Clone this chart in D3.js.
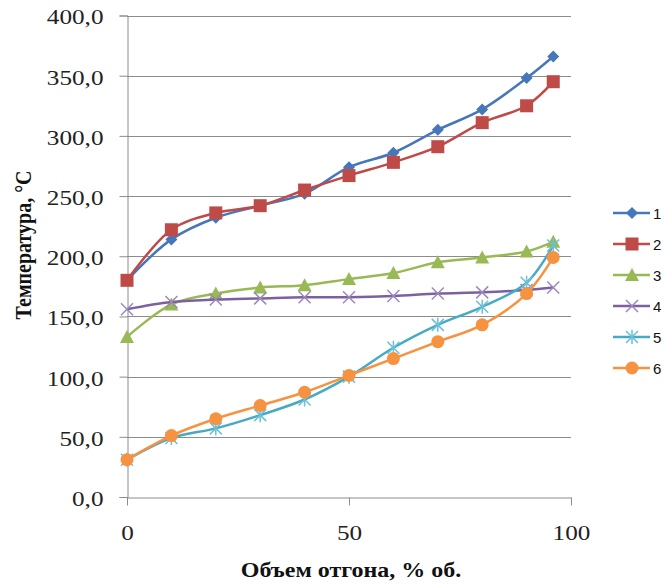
<!DOCTYPE html>
<html>
<head>
<meta charset="utf-8">
<script src="https://cdn.jsdelivr.net/npm/d3@7"></script>
<style>
    body { margin: 0; background: #fff; }
    .tick-label { font-family: "Liberation Serif", "Times New Roman", serif; font-size: 21px; fill: #222; }
    .axis-title { font-family: "Liberation Serif", "Times New Roman", serif; font-size: 20px; font-weight: bold; fill: #111; }
    .legend-text { font-family: "Liberation Sans", Arial, sans-serif; font-size: 15px; fill: #111; }
</style>
</head>
<body>
<div id="chart"></div>
<script>
// volume distilled, % vol.
let xValues = [0, 10, 20, 30, 40, 50, 60, 70, 80, 90, 96];

let series1 = [180, 214, 232, 242, 252, 274, 286, 305, 322, 348, 366];
let series2 = [180, 222, 236, 242, 255, 267, 278, 291, 311, 325, 345];
let series3 = [133, 160, 169, 174, 176, 181, 186, 195, 199, 204, 212];
let series4 = [156, 162, 164, 165, 166, 166, 167, 169, 170, 172, 174];
let series5 = [31, 49, 57, 68, 81, 100, 124, 143, 158, 178, 209];
let series6 = [31, 51, 65, 76, 87, 101, 115, 129, 143, 169, 199];

let seriesNames = ["1", "2", "3", "4", "5", "6"];
let yTicks = [0, 50, 100, 150, 200, 250, 300, 350, 400];
let xTicks = [0, 50, 100];

let colors = ["#4677BB", "#BE4B48", "#98B954", "#7D60A0", "#46AAC5", "#F69240"];
let markers = ["diamond", "square", "triangle", "x", "star", "circle"];

let allSeries = [series1, series2, series3, series4, series5, series6].map((vals, i) => ({
    name: seriesNames[i],
    color: colors[i],
    marker: markers[i],
    points: vals.map((v, j) => ({x: xValues[j], y: v}))
}));

let width = 665, height = 586;
let stretch = 1.2; // the original text looks widened horizontally

let svg = d3.select("#chart").append("svg")
    .attr("width", width)
    .attr("height", height);

let xscale = d3.scaleLinear().domain([0, 100]).range([127, 571]);
let yscale = d3.scaleLinear().domain([0, 400]).range([497, 15.5]);

// gridlines
svg.append("g").selectAll("line")
    .data(yTicks.slice(1))
    .enter().append("line")
    .attr("x1", xscale(0)).attr("x2", xscale(100))
    .attr("y1", d => Math.round(yscale(d)) + 0.5).attr("y2", d => Math.round(yscale(d)) + 0.5)
    .attr("stroke", "#8c8c8c").attr("stroke-width", 1);

// y axis
let yAxis = d3.axisLeft(yscale).tickValues(yTicks).tickSize(8).tickPadding(24)
    .tickFormat(d => d3.format(".1f")(d).replace(".", ","));
let yAxisGroup = svg.append("g")
    .attr("transform", "translate(" + (xscale(0) + 0.5) + ",0)")
    .call(yAxis);
yAxisGroup.select(".domain").attr("stroke", "#8c8c8c");
yAxisGroup.selectAll(".tick line").attr("stroke", "#8c8c8c");
yAxisGroup.selectAll(".tick text")
    .attr("class", "tick-label").attr("font-size", null).attr("font-family", null)
    .attr("x", -24 / stretch)
    .attr("dy", "0.4em")
    .attr("transform", "scale(" + stretch + ",1)");

// x axis
let xAxis = d3.axisBottom(xscale).tickValues(xTicks).tickSize(8).tickPadding(20).tickSizeOuter(0);
let xAxisGroup = svg.append("g")
    .attr("transform", "translate(0," + (Math.round(yscale(0)) + 0.5) + ")")
    .call(xAxis);
xAxisGroup.select(".domain").attr("stroke", "#8c8c8c");
xAxisGroup.selectAll(".tick line").attr("stroke", "#8c8c8c");
xAxisGroup.selectAll(".tick text")
    .attr("class", "tick-label").attr("font-size", null).attr("font-family", null)
    .attr("transform", "scale(" + stretch + ",1)");

// axis titles
svg.append("text")
    .attr("class", "axis-title")
    .attr("transform", "translate(351,577) scale(" + stretch + ",1)")
    .style("text-anchor", "middle")
    .text("Объем отгона, % об.");

svg.append("text")
    .attr("class", "axis-title")
    .attr("transform", "translate(31,245) rotate(-90) scale(1," + stretch + ")")
    .style("text-anchor", "middle")
    .text("Температура, °С");

// marker drawing
function drawMarker(g, type, color) {
    if (type === "diamond") {
        g.append("path").attr("d", "M0,-6L6,0L0,6L-6,0Z").attr("fill", color);
    } else if (type === "square") {
        g.append("rect").attr("x", -6.5).attr("y", -6.5).attr("width", 13).attr("height", 13).attr("fill", color);
    } else if (type === "triangle") {
        g.append("path").attr("d", "M0,-7L7,6L-7,6Z").attr("fill", color);
    } else if (type === "x") {
        g.append("path").attr("d", "M-6,-6L6,6M-6,6L6,-6").attr("stroke", "#9c88bd").attr("stroke-width", 1.5).attr("fill", "none");
    } else if (type === "star") {
        g.append("path").attr("d", "M-6,-6L6,6M-6,6L6,-6M0,-7L0,7").attr("stroke", "#6cc0d8").attr("stroke-width", 1.5).attr("fill", "none");
    } else if (type === "circle") {
        g.append("circle").attr("r", 6.5).attr("fill", color);
    }
}

let line = d3.line()
    .x(d => xscale(d.x))
    .y(d => yscale(d.y))
    .curve(d3.curveCatmullRom.alpha(0.5));

// series
allSeries.forEach(s => {
    let g = svg.append("g").attr("class", "series");
    g.append("path")
        .datum(s.points)
        .attr("d", line)
        .attr("fill", "none")
        .attr("stroke", s.color)
        .attr("stroke-width", 2.5);
    g.selectAll(".mk")
        .data(s.points)
        .enter().append("g")
        .attr("class", "mk")
        .attr("transform", d => "translate(" + xscale(d.x) + "," + yscale(d.y) + ")")
        .each(function () { drawMarker(d3.select(this), s.marker, s.color); });
});

// legend
let legend = svg.append("g").attr("transform", "translate(613,213)");
allSeries.forEach((s, i) => {
    let lg = legend.append("g").attr("transform", "translate(0," + (i * 31) + ")");
    lg.append("line").attr("x1", 0).attr("x2", 37).attr("y1", 0).attr("y2", 0)
        .attr("stroke", s.color).attr("stroke-width", 2.5);
    let mg = lg.append("g").attr("transform", "translate(19,0)");
    drawMarker(mg, s.marker, s.color);
    lg.append("text").attr("class", "legend-text")
        .attr("x", 40).attr("y", 5.5)
        .text(s.name);
});
</script>
</body>
</html>
